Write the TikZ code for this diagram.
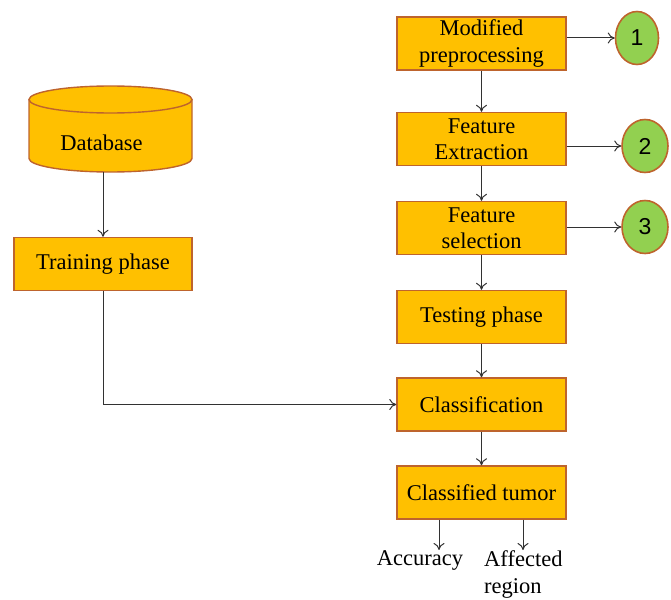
\documentclass[tikz,border=0pt]{standalone}
\usepackage{fontspec}
\setmainfont{Liberation Serif}
\newfontfamily\numfont{Liberation Sans}
\usetikzlibrary{arrows.meta,shapes.geometric}
\definecolor{boxfill}{RGB}{255,192,0}
\definecolor{boxline}{RGB}{190,100,45}
\definecolor{circfill}{RGB}{146,208,80}
\definecolor{arrowcol}{RGB}{50,50,50}
\tikzset{
  stepbox/.style={rectangle, draw=boxline, fill=boxfill, line width=1.4pt,
    minimum width=169pt, minimum height=53pt, align=center, inner sep=2pt,
    font=\fontsize{22.5}{26.5}\selectfont},
  numcirc/.style={ellipse, draw=boxline, fill=circfill, line width=1.6pt,
    minimum width=46pt, minimum height=53pt, inner sep=0pt,
    font=\numfont\fontsize{23}{26}\selectfont},
  flow/.style={draw=arrowcol, line width=1pt, -{To[length=7pt,width=11pt]}},
  outlabel/.style={inner sep=0pt, font=\fontsize{22.5}{27}\selectfont},
}
\begin{document}
\begin{tikzpicture}[x=1pt,y=1pt]
\useasboundingbox (0,0) rectangle (671,-599);

% database cylinder
\fill[boxfill] (29,-99.5) -- (29,-158.5)
  arc[start angle=180, end angle=360, x radius=81.5, y radius=13.5] -- (192,-99.5) -- cycle;
\draw[boxline, line width=1.4pt] (29,-99.5) -- (29,-158.5)
  arc[start angle=180, end angle=360, x radius=81.5, y radius=13.5] -- (192,-99.5);
\draw[boxline, fill=boxfill, line width=1.4pt] (110.5,-99.5) ellipse[x radius=81.5, y radius=13.5];
\node[rectangle, minimum width=163pt, minimum height=59pt, inner sep=0pt,
      font=\fontsize{22.5}{26.5}\selectfont] (db) at (110.5,-142.5) {\hspace*{-18pt}Database};

% boxes
\node[stepbox, minimum width=178pt] (train) at (103,-264) {Training phase};
\node[stepbox] (prep) at (481.5,-43.5) {Modified\\preprocessing};
\node[stepbox] (fext) at (481.5,-139) {Feature\\Extraction};
\node[stepbox] (fsel) at (481.5,-228) {Feature\\selection};
\node[stepbox] (test) at (481.5,-317) {Testing phase};
\node[stepbox] (cls) at (481.5,-404.5) {Classification};
\node[stepbox] (ctum) at (481.5,-492.5) {Classified tumor};

% numbered markers
\node[numcirc, minimum width=43pt] (c1) at (637,-38) {1};
\node[numcirc] (c2) at (645,-146) {2};
\node[numcirc] (c3) at (645,-227) {3};

% output labels
\node[outlabel] (acc) at (420,-560) {Accuracy};
\node[outlabel, anchor=north west, align=left] (aff) at (484,-550) {Affected\\region};
\coordinate (ax) at (439,0);
\coordinate (bx) at (523,0);

% connectors
\draw[flow] (db.south -| train.north) -- (train.north);
\draw[flow] (train.south) |- (cls.west);
\draw[flow] (prep) -- (fext);
\draw[flow] (fext) -- (fsel);
\draw[flow] (fsel) -- (test);
\draw[flow] (test) -- (cls);
\draw[flow] (cls) -- (ctum);
\draw[flow] (prep.east |- c1) -- (c1.west);
\draw[flow] (fext.east |- c2) -- (c2.west);
\draw[flow] (fsel.east |- c3) -- (c3.west);
\draw[flow] (ctum.south -| ax) -- (acc.north -| ax);
\draw[flow] (ctum.south -| bx) -- (aff.north -| bx);
\end{tikzpicture}
\end{document}
